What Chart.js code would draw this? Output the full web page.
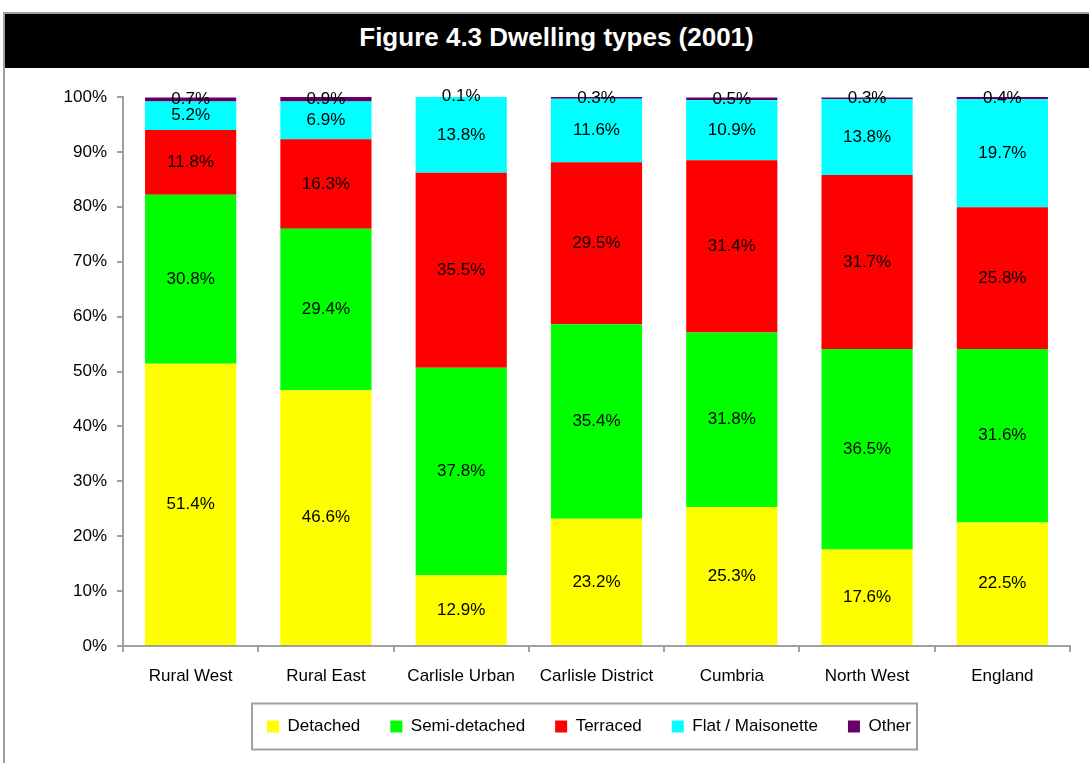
<!DOCTYPE html>
<html>
<head>
<meta charset="utf-8">
<script src="https://cdn.jsdelivr.net/npm/chart.js@4"></script>
<style>
  body { margin: 0; background: #fff; overflow: hidden; }
  #frame {
    position: absolute; left: 3px; top: 12px; width: 1110px; height: 800px;
    border-left: 2px solid #a0a0a0; border-top: 2px solid #a0a0a0;
  }
  #title {
    position: absolute; left: 0; top: 0; width: 1103px; height: 54px;
    background: #000; color: #fff; text-align: center;
    font: bold 26px "Liberation Sans", Arial, sans-serif; line-height: 46px;
  }
  #wrap { position: absolute; left: 0; top: 69px; }
</style>
</head>
<body>
<div id="frame"><div id="title">Figure 4.3 Dwelling types (2001)</div></div>
<div id="wrap"><canvas id="myChart" width="1089" height="694"></canvas></div>
<script>
var canvas = document.getElementById("myChart");

const labels = ["Rural West", "Rural East", "Carlisle Urban", "Carlisle District", "Cumbria", "North West", "England"];
const detached = [51.4, 46.6, 12.9, 23.2, 25.3, 17.6, 22.5];
const semiDetached = [30.8, 29.4, 37.8, 35.4, 31.8, 36.5, 31.6];
const terraced = [11.8, 16.3, 35.5, 29.5, 31.4, 31.7, 25.8];
const flat = [5.2, 6.9, 13.8, 11.6, 10.9, 13.8, 19.7];
const other = [0.7, 0.9, 0.1, 0.3, 0.5, 0.3, 0.4];

const FONT = "'Liberation Sans', Arial, sans-serif";
const AXIS = "#a0a0a0";

// value labels in the middle of every segment
const segmentLabels = {
  id: "segmentLabels",
  afterDatasetsDraw(chart) {
    const ctx = chart.ctx;
    ctx.save();
    ctx.font = "17px " + FONT;
    ctx.fillStyle = "#000";
    ctx.textAlign = "center";
    ctx.textBaseline = "middle";
    chart.data.datasets.forEach((ds, i) => {
      chart.getDatasetMeta(i).data.forEach((bar, j) => {
        ctx.fillText(ds.data[j].toFixed(1) + "%", bar.x, (bar.y + bar.base) / 2);
      });
    });
    ctx.restore();
  },
};

// move the legend a bit right and put a grey frame round it
const legendFrame = {
  id: "legendFrame",
  afterUpdate(chart) {
    const lg = chart.legend;
    const boxes = lg.legendHitBoxes;
    if (!boxes || !boxes.length) return;
    const l = Math.min(...boxes.map((b) => b.left));
    const r = Math.max(...boxes.map((b) => b.left + b.width));
    const dx = 589 - (l + r) / 2;
    lg.left += dx;
    lg.right += dx;
    boxes.forEach((b) => (b.left += dx));
  },
  afterDraw(chart) {
    const boxes = chart.legend.legendHitBoxes;
    if (!boxes || !boxes.length) return;
    const l = Math.min(...boxes.map((b) => b.left));
    const r = Math.max(...boxes.map((b) => b.left + b.width));
    const cy = boxes[0].top + boxes[0].height / 2;
    const ctx = chart.ctx;
    ctx.save();
    ctx.strokeStyle = AXIS;
    ctx.lineWidth = 2;
    ctx.strokeRect(l - 15, cy - 23, r - l + 21, 46);
    ctx.restore();
  },
};

new Chart(canvas, {
  type: "bar",
  data: {
    labels: labels,
    datasets: [
      { label: "Detached", data: detached, backgroundColor: "#ffff00" },
      { label: "Semi-detached", data: semiDetached, backgroundColor: "#00ff00" },
      { label: "Terraced", data: terraced, backgroundColor: "#ff0000" },
      { label: "Flat / Maisonette", data: flat, backgroundColor: "#00ffff" },
      { label: "Other", data: other, backgroundColor: "#660066" },
    ],
  },
  options: {
    responsive: false,
    animation: false,
    devicePixelRatio: 1,
    datasets: { bar: { barPercentage: 0.674, categoryPercentage: 1 } },
    layout: { padding: { left: 0, right: 19, top: 28, bottom: 18 } },
    scales: {
      x: {
        stacked: true,
        grid: { drawOnChartArea: false, color: AXIS, tickLength: 6, lineWidth: 2 },
        border: { color: AXIS, width: 2 },
        ticks: { color: "#000", font: { family: FONT, size: 17 }, padding: 14, maxRotation: 0, autoSkip: false },
        afterFit(s) { s.height = 42; },
      },
      y: {
        stacked: true,
        min: 0,
        max: 100,
        grid: { drawOnChartArea: false, color: AXIS, tickLength: 6, lineWidth: 2 },
        border: { color: AXIS, width: 2 },
        ticks: {
          stepSize: 10,
          color: "#000",
          font: { family: FONT, size: 17 },
          padding: 10,
          callback: (v) => v + "%",
        },
        afterFit(s) { s.width = 123; },
      },
    },
    plugins: {
      legend: {
        position: "bottom",
        labels: {
          color: "#000",
          font: { family: FONT, size: 17 },
          boxWidth: 12,
          boxHeight: 12,
          padding: 30,
        },
      },
      tooltip: { enabled: false },
    },
  },
  plugins: [segmentLabels, legendFrame],
});
</script>
</body>
</html>
